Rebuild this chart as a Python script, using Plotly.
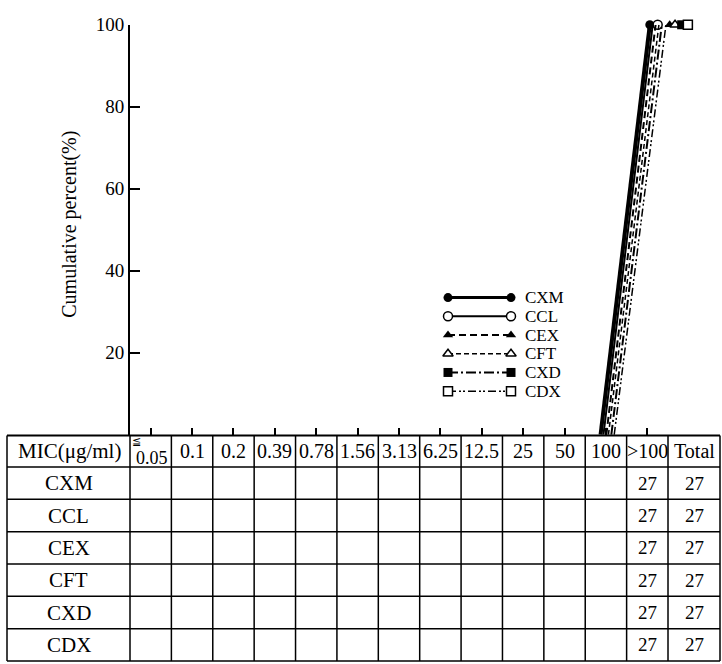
import plotly.graph_objects as go

W, H = 722, 664
FONT = "Liberation Serif"

# MIC categories (µg/ml) and strain counts per drug
mic_labels = ["0.05", "0.1", "0.2", "0.39", "0.78", "1.56", "3.13",
              "6.25", "12.5", "25", "50", "100", ">100"]
drugs = ["CXM", "CCL", "CEX", "CFT", "CXD", "CDX"]
counts_cxm = [0, 0, 0, 0, 0, 0, 0, 0, 0, 0, 0, 0, 27]
counts_ccl = [0, 0, 0, 0, 0, 0, 0, 0, 0, 0, 0, 0, 27]
counts_cex = [0, 0, 0, 0, 0, 0, 0, 0, 0, 0, 0, 0, 27]
counts_cft = [0, 0, 0, 0, 0, 0, 0, 0, 0, 0, 0, 0, 27]
counts_cxd = [0, 0, 0, 0, 0, 0, 0, 0, 0, 0, 0, 0, 27]
counts_cdx = [0, 0, 0, 0, 0, 0, 0, 0, 0, 0, 0, 0, 27]
counts = {"CXM": counts_cxm, "CCL": counts_ccl, "CEX": counts_cex,
          "CFT": counts_cft, "CXD": counts_cxd, "CDX": counts_cdx}
y_ticks = [20, 40, 60, 80, 100]

# line / marker style per drug; small horizontal shifts keep overlapping curves apart
STYLE = {
    "CXM": dict(dash="solid", width=4.0, symbol="circle", filled=True, lo=-0.13, hi=0.06, mk=0.06),
    "CCL": dict(dash="solid", width=2.0, symbol="circle", filled=False, lo=-0.06, hi=0.13, mk=0.25),
    "CEX": dict(dash="7px,4px", width=2.0, symbol="triangle-up", filled=True, lo=0.01, hi=0.20, mk=0.54),
    "CFT": dict(dash="5px,3px", width=1.5, symbol="triangle-up", filled=False, lo=0.06, hi=0.28, mk=0.67),
    "CXD": dict(dash="10px,3px,2px,3px", width=2.0, symbol="square", filled=True, lo=0.13, hi=0.35, mk=0.83),
    "CDX": dict(dash="8px,3px,2px,2px,2px,3px", width=1.5, symbol="square", filled=False, lo=0.20, hi=0.45, mk=0.98),
}

# pixel geometry of the plot and table
AX_X = 130                      # y axis position
COL_W = 41.385                  # width of one MIC column
Y_TOP, Y_ZERO = 15, 431.3       # pixel rows of 100 % and 0 %
TBL_L, TBL_R = 7, 720
ROW_TOP, HDR_BOT, TBL_BOT = 432, 464, 661


def px(xp):
    return xp / W


def py(yp):
    return 1 - yp / H


def marker_style(s, size=9):
    return dict(symbol=s["symbol"], size=size,
                color="black" if s["filled"] else "white",
                line=dict(color="black", width=0 if s["filled"] else 1.5))


fig = go.Figure()

# cumulative curves
for d in drugs:
    c = counts[d]
    total = sum(c)
    cum, run = [], 0
    for v in c:
        run += v
        cum.append(100.0 * run / total)
    start = max(i for i, v in enumerate(cum) if v == 0)
    s = STYLE[d]
    xs = [i + s["lo"] + (s["hi"] - s["lo"]) * cum[i] / 100 for i in range(start, len(cum))]
    ys = cum[start:]
    fig.add_trace(go.Scatter(x=xs, y=ys, mode="lines", showlegend=False,
                             line=dict(color="black", width=s["width"], dash=s["dash"]),
                             hoverinfo="skip"))
    top = next(i for i, v in enumerate(cum) if v >= 100)
    fig.add_trace(go.Scatter(x=[top + s["mk"]], y=[cum[top]], mode="markers",
                             showlegend=False, cliponaxis=False,
                             marker=marker_style(s), hoverinfo="skip"))

# legend drawn by hand: line with a marker at each end
LEG_X0, LEG_X1, LEG_Y0, LEG_DY = 448, 511, 292, 19
for k, d in enumerate(drugs):
    s = STYLE[d]
    yy = LEG_Y0 + k * LEG_DY
    fig.add_trace(go.Scatter(x=[LEG_X0, LEG_X1], y=[yy, yy], mode="lines+markers",
                             xaxis="x2", yaxis="y2", showlegend=False, cliponaxis=False,
                             line=dict(color="black", width=min(s["width"], 3), dash=s["dash"]),
                             marker=marker_style(s), hoverinfo="skip"))
    fig.add_annotation(x=px(523), y=py(yy), xref="paper", yref="paper", text=d,
                       showarrow=False, xanchor="left", yanchor="middle",
                       font=dict(family=FONT, size=17, color="black"))

# table grid
shapes = []
line = dict(color="black", width=1.5)
col_edges = [AX_X + COL_W * i for i in range(len(mic_labels) + 1)]
v_edges = [TBL_L] + col_edges + [TBL_R]
for xe in v_edges:
    shapes.append(dict(type="line", xref="paper", yref="paper", x0=px(xe), x1=px(xe),
                       y0=py(ROW_TOP), y1=py(TBL_BOT), line=line))
row_h = (TBL_BOT - HDR_BOT) / len(drugs)
h_edges = [HDR_BOT + row_h * r for r in range(len(drugs) + 1)]
for ye in h_edges:
    shapes.append(dict(type="line", xref="paper", yref="paper", x0=px(TBL_L), x1=px(TBL_R),
                       y0=py(ye), y1=py(ye), line=line))
shapes.append(dict(type="line", xref="paper", yref="paper", x0=px(TBL_L), x1=px(TBL_R),
                   y0=py(ROW_TOP), y1=py(ROW_TOP), line=dict(color="black", width=2)))
fig.update_layout(shapes=shapes)


def cell_text(xc, yc, t, size=20):
    fig.add_annotation(x=px(xc), y=py(yc), xref="paper", yref="paper", text=t,
                       showarrow=False, xanchor="center", yanchor="middle",
                       font=dict(family=FONT, size=size, color="black"))


hdr_y = (ROW_TOP + HDR_BOT) / 2
cell_text((TBL_L + AX_X) / 2 + 1, hdr_y, "MIC(μg/ml)", 21)
for i, lab in enumerate(mic_labels):
    xc = AX_X + COL_W * (i + 0.5)
    if i == 0:
        cell_text(xc - 14, hdr_y - 10, "≦", 11)
        cell_text(xc + 1, hdr_y + 7, lab, 18)
    else:
        cell_text(xc, hdr_y, lab, 20)
tot_x = (col_edges[-1] + TBL_R) / 2
cell_text(tot_x, hdr_y, "Total", 20)

for r, d in enumerate(drugs):
    yc = HDR_BOT + row_h * (r + 0.5)
    cell_text((TBL_L + AX_X) / 2, yc, d, 21)
    for i, v in enumerate(counts[d]):
        if v:
            cell_text(AX_X + COL_W * (i + 0.5), yc, str(v), 19)
    cell_text(tot_x, yc, str(sum(counts[d])), 19)

# y axis title
fig.add_annotation(x=px(70), y=py(218), xref="paper", yref="paper",
                   text="Cumulative percent(%)", textangle=-90, showarrow=False,
                   xanchor="center", yanchor="middle",
                   font=dict(family=FONT, size=20, color="black"))

# x axis starts at the y axis; first column centre sits half a column right of it
x_lo = -0.5
x_hi = -0.5 + (W - AX_X) / COL_W
fig.update_layout(
    width=W, height=H, margin=dict(l=0, r=0, t=0, b=0),
    paper_bgcolor="white", plot_bgcolor="rgba(0,0,0,0)",
    xaxis=dict(domain=[px(AX_X), 1], range=[x_lo, x_hi], showgrid=False, zeroline=False,
               showline=False, ticks="inside", ticklen=7, tickwidth=1.5, tickcolor="black",
               tickvals=list(range(len(mic_labels))), showticklabels=False, anchor="y"),
    yaxis=dict(domain=[py(Y_ZERO), py(Y_TOP)], range=[0, 100], showgrid=False,
               zeroline=False, showline=True, linecolor="black", linewidth=2,
               ticks="inside", ticklen=10, tickwidth=1.5, tickcolor="black",
               tickvals=y_ticks, ticktext=[str(v) for v in y_ticks],
               tickfont=dict(family=FONT, size=19, color="black"),
               anchor="x"),
    xaxis2=dict(domain=[0, 1], range=[0, W], visible=False, anchor="y2"),
    yaxis2=dict(domain=[0, 1], range=[H, 0], visible=False, anchor="x2"),
    showlegend=False,
)

fig.write_html("out.html")
